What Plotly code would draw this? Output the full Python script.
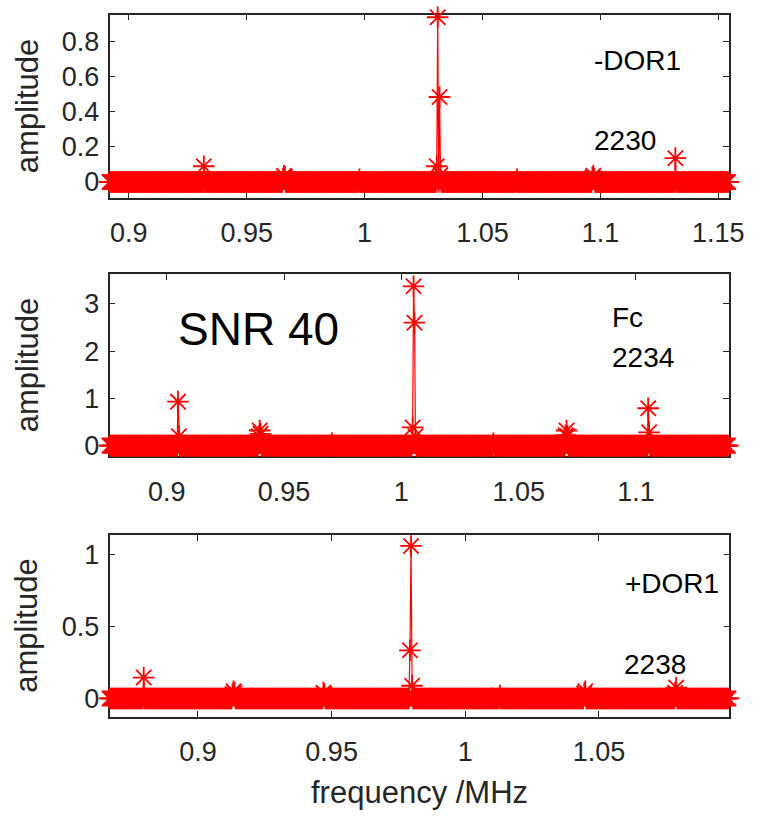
import numpy as np
import plotly.graph_objects as go

W, H = 764, 818
FONT = "Arial, Liberation Sans, sans-serif"
AXC = "#262626"

# Frequency bins of each spectrum (MHz)
f_start = [0.8918, 0.8756, 0.8669]
f_stop = [1.1545, 1.1396, 1.0988]
f_step = 0.0004

# Spectral lines above the (near-zero) floor: frequency (MHz) and amplitude
peak_freq_1 = [0.9318, 0.9654, 0.9658, 0.9662, 0.9978, 1.0308, 1.0312, 1.0318, 1.0322,
               1.0646, 1.0966, 1.0970, 1.0974, 1.1319]
peak_amp_1 = [0.09, 0.02, 0.036, 0.03, 0.015, 0.09, 0.94, 0.485, 0.04,
              0.015, 0.025, 0.036, 0.02, 0.136]

peak_freq_2 = [0.9049, 0.9053, 0.9393, 0.9397, 0.9401, 0.9703, 1.0048, 1.0052, 1.0056,
               1.0060, 1.0393, 1.0702, 1.0706, 1.0710, 1.1052, 1.1056]
peak_amp_2 = [0.93, 0.2, 0.2, 0.32, 0.25, 0.05, 0.385, 3.37, 2.6,
              0.2, 0.05, 0.22, 0.32, 0.2, 0.79, 0.28]

peak_freq_3 = [0.8798, 0.9129, 0.9133, 0.9137, 0.9470, 0.9474, 0.9793, 0.9798, 0.9802,
               1.0131, 1.0445, 1.0449, 1.0786, 1.0790]
peak_amp_3 = [0.145, 0.03, 0.05, 0.04, 0.04, 0.03, 0.334, 1.058, 0.088,
              0.02, 0.035, 0.05, 0.04, 0.075]

# Axis ticks and limits
x_ticks = [[0.9, 0.95, 1.0, 1.05, 1.1, 1.15],
           [0.9, 0.95, 1.0, 1.05, 1.1],
           [0.9, 0.95, 1.0, 1.05]]
x_ticktext = [["0.9", "0.95", "1", "1.05", "1.1", "1.15"],
              ["0.9", "0.95", "1", "1.05", "1.1"],
              ["0.9", "0.95", "1", "1.05"]]
y_ticks = [[0, 0.2, 0.4, 0.6, 0.8], [0, 1, 2, 3], [0, 0.5, 1]]
y_ticktext = [["0", "0.2", "0.4", "0.6", "0.8"], ["0", "1", "2", "3"], ["0", "0.5", "1"]]
y_range = [[-0.09, 0.955], [-0.23, 3.63], [-0.126, 1.134]]

# Panel boxes in pixels: left, right, top, bottom
boxes = [(111.7, 743.5, 14.7, 199.0), (111.7, 743.5, 275.7, 459.3), (111.7, 744.0, 538.3, 721.0)]


def spectrum(i, pf, pa):
    n = int(round((f_stop[i] - f_start[i]) / f_step))
    f = f_start[i] + f_step * np.arange(n + 1)
    a = np.zeros_like(f)
    for fr, am in zip(pf, pa):
        a[np.argmin(np.abs(f - fr))] = am
    return f, a


peaks = [(peak_freq_1, peak_amp_1), (peak_freq_2, peak_amp_2), (peak_freq_3, peak_amp_3)]

fig = go.Figure()
layout = dict(
    width=W, height=H, margin=dict(l=0, r=0, t=0, b=0),
    paper_bgcolor="white", plot_bgcolor="white", showlegend=False,
    font=dict(family=FONT, size=27, color=AXC),
)

for i, (pf, pa) in enumerate(peaks):
    f, a = spectrum(i, pf, pa)
    sfx = "" if i == 0 else str(i + 1)
    fig.add_trace(go.Scatter(
        x=f, y=a, mode="lines+markers", xaxis="x" + sfx, yaxis="y" + sfx,
        line=dict(color="red", width=1.2),
        marker=dict(symbol="asterisk-open", size=18, color="red", line=dict(color="red", width=1.8)),
        cliponaxis=False,
    ))
    l, r, t, b = boxes[i]
    common = dict(showline=True, linecolor=AXC, linewidth=1.5, mirror="allticks",
                  ticks="inside", ticklen=6, tickwidth=1.2, tickcolor=AXC,
                  showgrid=False, zeroline=False, layer="below traces",
                  tickfont=dict(family=FONT, size=27, color=AXC))
    layout["xaxis" + sfx] = dict(
        domain=[l / W, r / W], range=[f_start[i], f_stop[i]], anchor="y" + sfx,
        tickmode="array", tickvals=x_ticks[i], ticktext=x_ticktext[i],
        ticklabelstandoff=10, **common)
    layout["yaxis" + sfx] = dict(
        domain=[1 - b / H, 1 - t / H], range=y_range[i], anchor="x" + sfx,
        tickmode="array", tickvals=y_ticks[i], ticktext=y_ticktext[i],
        ticklabelstandoff=3, **common)

fig.update_layout(**layout)

# Axis titles
for i in range(3):
    l, r, t, b = boxes[i]
    fig.add_annotation(text="amplitude", x=27.5 / W, y=1 - (t + b) / 2 / H,
                       xref="paper", yref="paper", textangle=-90, showarrow=False,
                       xanchor="center", yanchor="middle",
                       font=dict(family=FONT, size=31, color=AXC))
fig.add_annotation(text="frequency /MHz", x=427.6 / W, y=1 - 797 / H,
                   xref="paper", yref="paper", showarrow=False,
                   xanchor="center", yanchor="middle",
                   font=dict(family=FONT, size=31, color=AXC))

# Panel labels
labels = [("-DOR1", 604, 61, 28), ("2230", 604, 141.7, 28), ("SNR 40", 180, 331.5, 46),
          ("Fc", 622.5, 319, 28), ("2234", 622.5, 360, 28),
          ("+DOR1", 635, 586.7, 28), ("2238", 634, 668.8, 28)]
for txt, x, y, s in labels:
    fig.add_annotation(text=txt, x=x / W, y=1 - y / H, xref="paper", yref="paper",
                       showarrow=False, xanchor="left", yanchor="middle",
                       font=dict(family=FONT, size=s, color="black"))

fig.write_html("out.html")
